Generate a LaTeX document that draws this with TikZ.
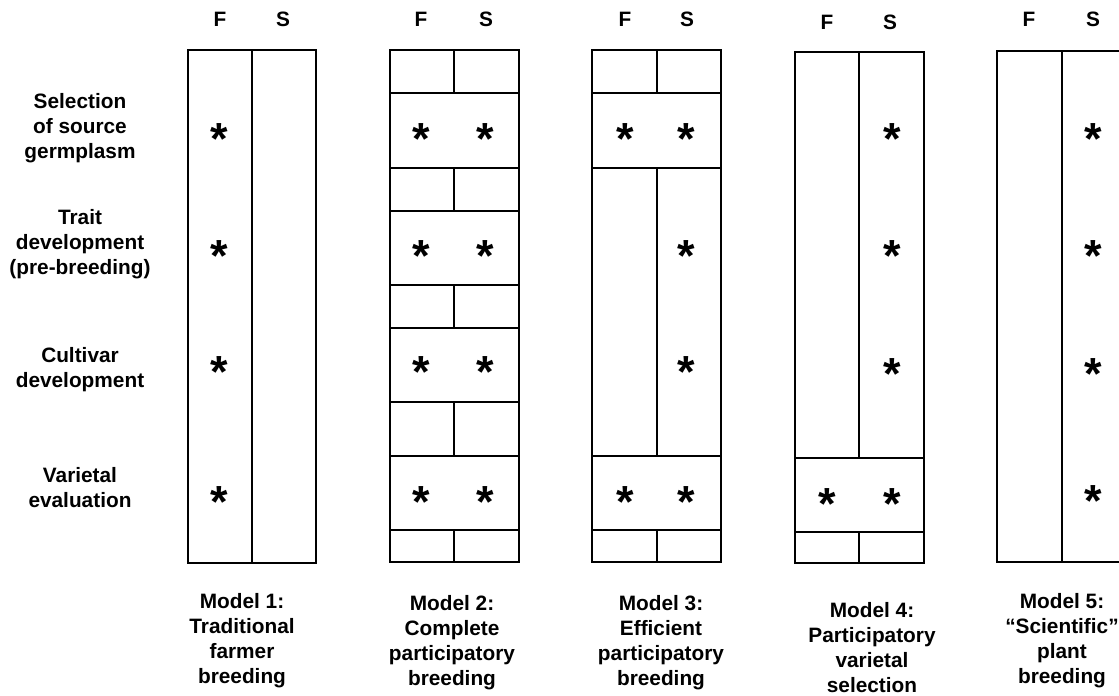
\documentclass[tikz,border=0pt]{standalone}
\usepackage{fontspec}
\setmainfont{Liberation Sans}
\begin{document}
\begin{tikzpicture}[x=0.025cm,y=-0.025cm,line width=1.1pt]
    \tikzstyle{lbl}=[font=\fontsize{14.8}{17.8}\selectfont\bfseries,align=center,inner sep=0pt]
    \tikzstyle{star}=[font=\fontsize{32}{32}\selectfont\bfseries,inner sep=0pt,anchor=base,yshift=-17.5pt]
    \useasboundingbox (0,0) rectangle (1119,696);

    % row labels
    \node[lbl] (r1) at (80,128) {Selection\\of source\\germplasm};
    \node[lbl] (r2) at (80,244) {Trait\\development\\(pre-breeding)};
    \node[lbl] (r3) at (80,370) {Cultivar\\development};
    \node[lbl] (r4) at (80,488) {Varietal\\evaluation};

    % F / S headers
    \foreach \i/\xf/\xs/\y in {1/220/283/19, 2/421/486/19, 3/625/687/19, 4/827/890/22, 5/1029/1093/19} {
        \node[lbl] (f\i) at (\xf,\y) {F};
        \node[lbl] (s\i) at (\xs,\y) {S};
    };

    % model 1
    \draw (188,50) rectangle (316,563);
    \draw (252,50) -- (252,563);

    % model 2
    \draw (390,50) rectangle (519,562);
    \foreach \y in {93,168,211,285,328,402,456,530} {
        \draw (390,\y) -- (519,\y);
    };
    \foreach \ya/\yb in {50/93, 168/211, 285/328, 402/456, 530/562} {
        \draw (454,\ya) -- (454,\yb);
    };

    % model 3
    \draw (592,50) rectangle (721,562);
    \foreach \y in {93,168,456,530} {
        \draw (592,\y) -- (721,\y);
    };
    \foreach \ya/\yb in {50/93, 168/456, 530/562} {
        \draw (657,\ya) -- (657,\yb);
    };

    % model 4
    \draw (795,52) rectangle (924,563);
    \draw (795,458) -- (924,458);
    \draw (795,532) -- (924,532);
    \draw (859,52) -- (859,458);
    \draw (859,532) -- (859,563);

    % model 5
    \draw (997,51) rectangle (1127,562);
    \draw (1062,51) -- (1062,562);

    % stars
    \foreach \x/\y [count=\k] in {219/130, 219/247, 219/363, 219/493,
        421/130, 485/130, 421/247, 485/247, 421/363, 485/363, 421/493, 485/493,
        625/130, 686/130, 686/247, 686/363, 625/493, 686/493,
        892/130, 892/247, 892/365, 827/495, 892/495,
        1093/130, 1093/247, 1093/365, 1093/492} {
        \node[star] (a\k) at (\x,\y) {*};
    };

    % model names
    \node[lbl] (m1) at (242,641) {Model 1:\\Traditional\\farmer\\breeding};
    \node[lbl] (m2) at (452,643) {Model 2:\\Complete\\participatory\\breeding};
    \node[lbl] (m3) at (661,643) {Model 3:\\Efficient\\participatory\\breeding};
    \node[lbl] (m4) at (872,648) {Model 4:\\Participatory\\varietal\\selection};
    \node[lbl] (m5) at (1062,641) {Model 5:\\``Scientific''\\plant\\breeding};
\end{tikzpicture}
\end{document}
